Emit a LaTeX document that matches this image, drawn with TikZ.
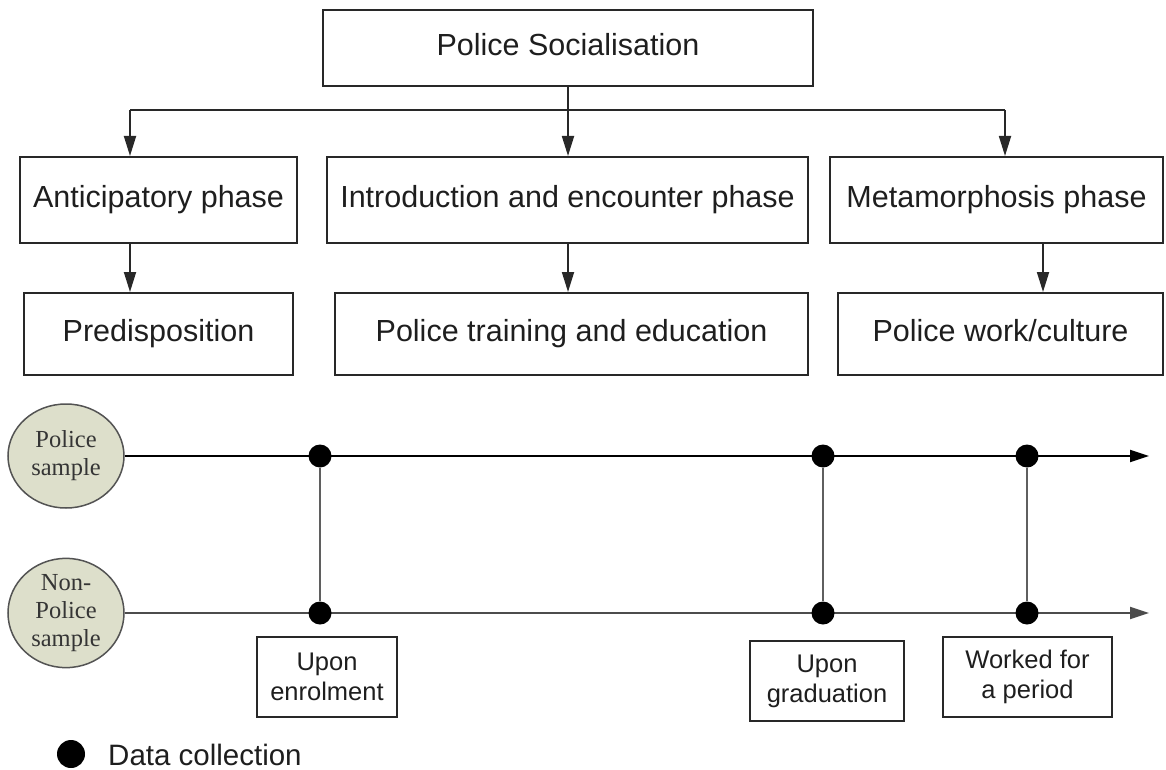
\documentclass[tikz,border=0pt]{standalone}
\usepackage{fontspec}
\setmainfont{Liberation Sans}
\newfontfamily\serifface{Liberation Serif}
\usetikzlibrary{arrows.meta,shapes.geometric}

\definecolor{inkline}{RGB}{40,40,40}
\definecolor{inktext}{RGB}{30,30,30}
\definecolor{samplefill}{RGB}{221,223,203}
\definecolor{tieline}{RGB}{95,95,95}

\tikzset{
  box/.style={draw=inkline, line width=2pt, rectangle, inner sep=0pt,
    text height=22pt, text depth=6.5pt,
    text=inktext, font=\fontsize{30.5}{36}\selectfont},
  tagbox/.style={draw=inkline, line width=1.8pt, rectangle, inner sep=0pt,
    text=inktext, align=center, font=\fontsize{25.5}{30}\selectfont},
  sample/.style={draw=inkline!80, line width=1.5pt, ellipse, fill=samplefill,
    inner sep=0pt, minimum width=116pt, minimum height=104pt, align=center,
    text=inktext!90, font=\serifface\fontsize{24.5}{28}\selectfont},
  dot/.style={circle, fill=black, inner sep=0pt, minimum size=23pt},
  flow/.style={line width=1.8pt, draw=inkline,
    -{Triangle[length=20pt,width=12pt]}},
  plain/.style={line width=1.8pt, draw=inkline},
  timeline/.style={line width=2pt, -{Triangle[length=19pt,width=12pt]}},
  tie/.style={line width=2.4pt, draw=tieline},
}

\begin{document}
\begin{tikzpicture}[x=1pt,y=1pt]
  \useasboundingbox (0,0) rectangle (1166,-770);

  % hierarchy of phases
  \node[box, minimum width=490pt, minimum height=76pt] (top) at (568,-48) {Police Socialisation};
  \node[box, minimum width=277pt, minimum height=86pt] (ant) at (158.5,-200) {Anticipatory phase};
  \node[box, minimum width=481pt, minimum height=86pt] (intro) at (567.5,-200) {Introduction and encounter phase};
  \node[box, minimum width=333pt, minimum height=86pt] (meta) at (996.5,-200) {Metamorphosis phase};
  \node[box, minimum width=269pt, minimum height=82pt] (pred) at (158.5,-334) {Predisposition};
  \node[box, minimum width=473pt, minimum height=82pt] (train) at (571.5,-334) {Police training and education};
  \node[box, minimum width=325pt, minimum height=82pt] (work) at (1000.5,-334) {Police work/culture};

  \coordinate (bl) at (130,-110);
  \coordinate (br) at (1005,-110);
  \coordinate (mx) at (1043,0);

  \draw[plain] (bl) -- (br);
  \draw[flow] (bl) -- (bl |- ant.north);
  \draw[flow] (br) -- (br |- meta.north);
  \draw[flow] (top.south) -- (top.south |- intro.north);

  \draw[flow] (bl |- ant.south) -- (bl |- pred.north);
  \draw[flow] (top.south |- intro.south) -- (top.south |- train.north);
  \draw[flow] (mx |- meta.south) -- (mx |- work.north);

  % samples and time lines
  \node[sample] (ps) at (66,-456) {Police\\sample};
  \node[sample] (nps) at (66,-613) {Non-\\Police\\sample};

  \coordinate (endp) at (1149,-456);
  \coordinate (endn) at (1149,-613);
  \draw[timeline, draw=black] (ps.east) -- (endp);
  \draw[timeline, draw=tieline!80!black] (nps.east) -- (endn);

  \node[dot] (d1t) at (320,-456) {};
  \node[dot] (d1b) at (320,-613) {};
  \node[dot] (d2t) at (823,-456) {};
  \node[dot] (d2b) at (823,-613) {};
  \node[dot] (d3t) at (1027,-456) {};
  \node[dot] (d3b) at (1027,-613) {};

  \draw[tie] (d1t) -- (d1b);
  \draw[tie] (d2t) -- (d2b);
  \draw[tie] (d3t) -- (d3b);

  % moments of data collection
  \node[tagbox, minimum width=140pt, minimum height=80pt] (t1) at (327,-677) {Upon\\enrolment};
  \node[tagbox, minimum width=154pt, minimum height=80pt] (t2) at (827,-681) {Upon\\graduation};
  \node[tagbox, minimum width=169pt, minimum height=80pt] (t3) at (1027.5,-677) {Worked for\\a period};

  % legend
  \node[dot, minimum size=28pt] (key) at (71,-754) {};
  \node[anchor=west, text=inktext, font=\fontsize{29.5}{34}\selectfont, inner sep=0pt] (keytext) at (108,-755) {Data collection};
\end{tikzpicture}
\end{document}
